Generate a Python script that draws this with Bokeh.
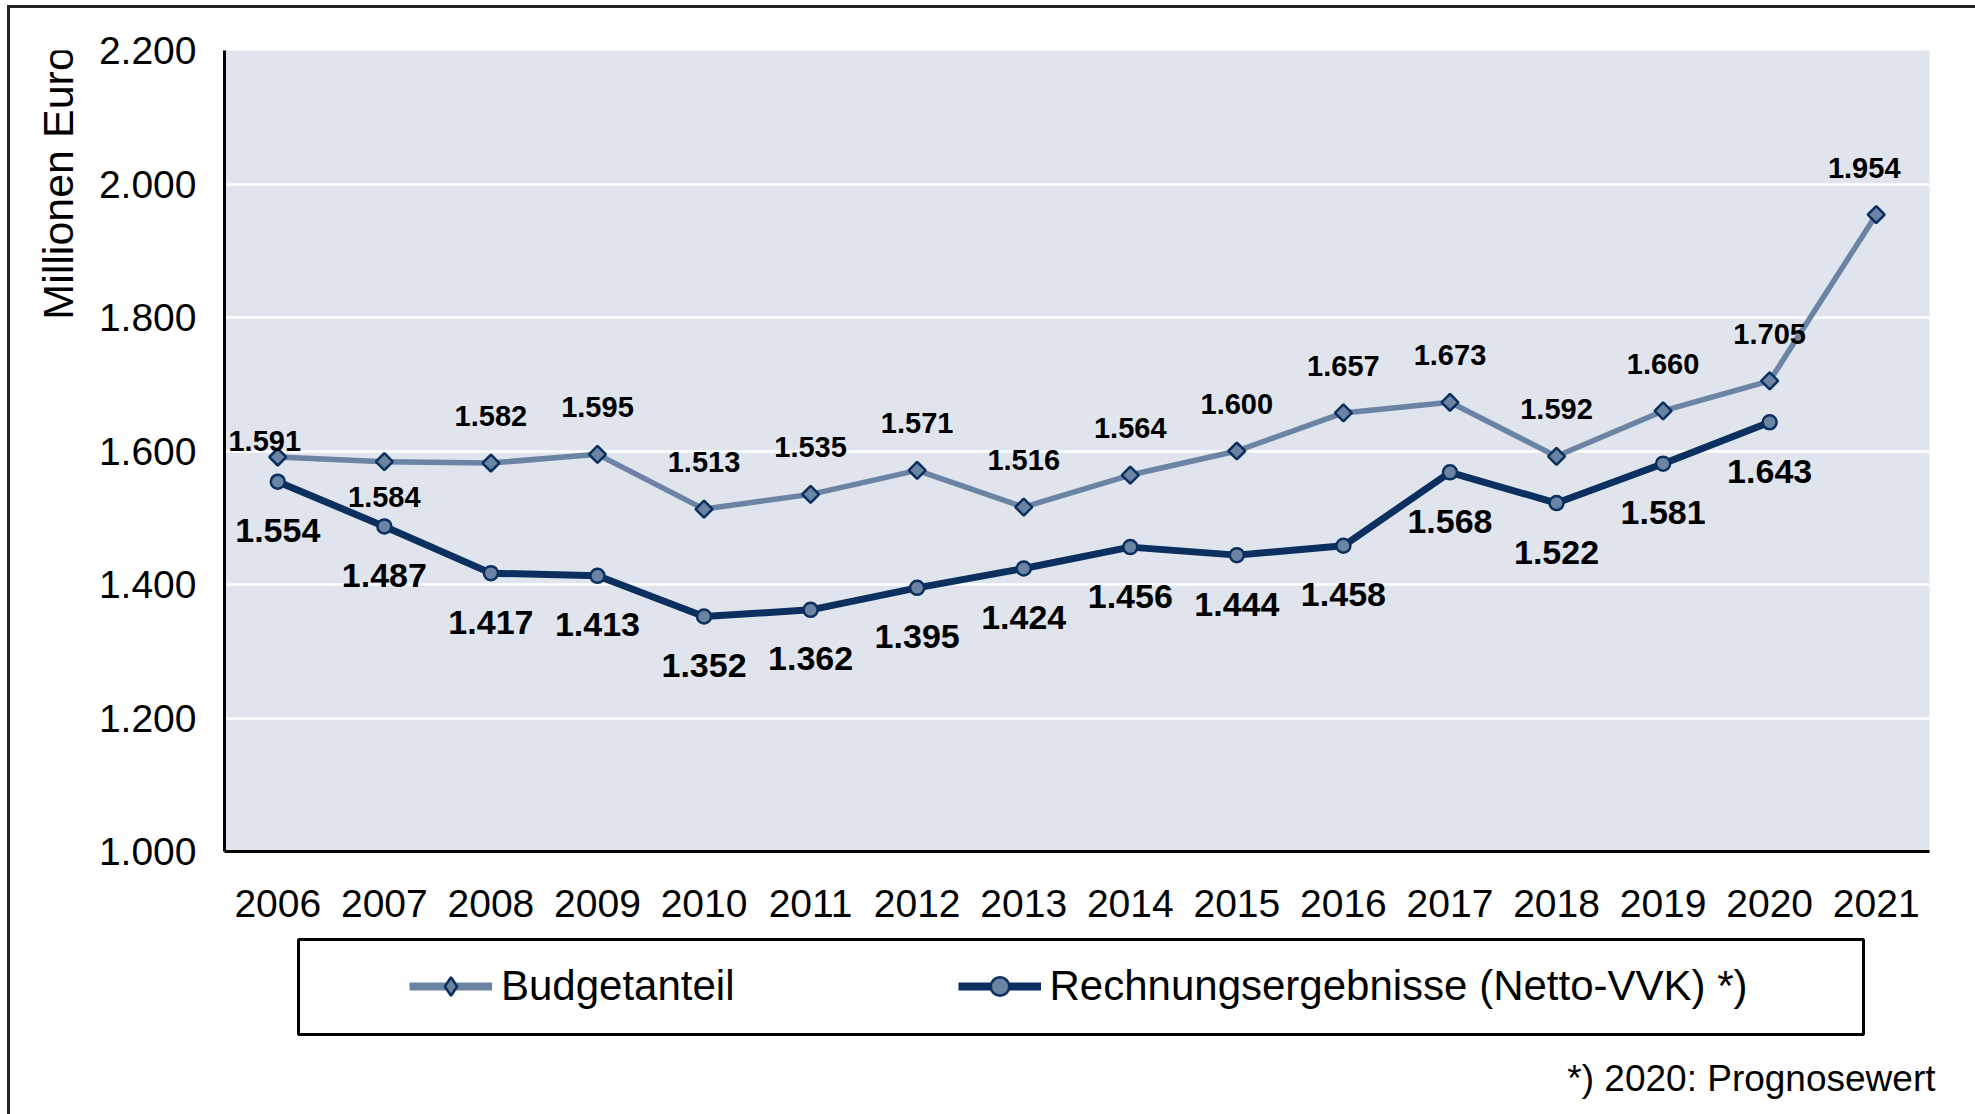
import math
from bokeh.plotting import figure
from bokeh.layouts import column, row
from bokeh.models import (ColumnDataSource, FactorRange, Range1d, FixedTicker,
                          Legend, LegendItem, Label, BoxAnnotation)
from bokeh.core.properties import value
from bokeh.embed import file_html
from bokeh.resources import INLINE

# ---------------- data ----------------
years = ["2006", "2007", "2008", "2009", "2010", "2011", "2012", "2013",
         "2014", "2015", "2016", "2017", "2018", "2019", "2020", "2021"]
budgetanteil = [1591, 1584, 1582, 1595, 1513, 1535, 1571, 1516,
                1564, 1600, 1657, 1673, 1592, 1660, 1705, 1954]
rechnung_years = years[:15]
rechnungsergebnisse = [1554, 1487, 1417, 1413, 1352, 1362, 1395, 1424,
                       1456, 1444, 1458, 1568, 1522, 1581, 1643]
y_ticks = [1000, 1200, 1400, 1600, 1800, 2000, 2200]
y_tick_labels = ["1.000", "1.200", "1.400", "1.600", "1.800", "2.000", "2.200"]

def fmt(v):
    return f"{v:,}".replace(",", ".")

# label placement (screen px)
b_xoff = [-13] + [0] * 14 + [-12]
b_yoff = [-16, 35] + [-47] * 14
r_yoff = [49] * 15

# ---------------- styles ----------------
FONT = "Liberation Sans"
LIGHT = "#6B84A3"
NAVY = "#0B2F5F"
BG = "#DFE4ED"

W, H = 1975, 1114
OX, OY = 10, 8            # outer border (margin + line) offset
TOP_H = 930 - OY          # height of upper part
P0_W = 80                 # strip holding the y-axis title
FL, FT, FR, FB = 224, 50, 1929, 851

# ---- strip with y title ----
p0 = figure(width=P0_W, height=TOP_H, x_range=Range1d(0, P0_W),
            y_range=Range1d(0, TOP_H), output_backend="svg",
            toolbar_location=None, x_axis_location=None, y_axis_location=None,
            min_border=0)
p0.grid.visible = False
p0.outline_line_color = None
p0.background_fill_color = "white"
p0.add_layout(Label(x=57 - OX, y=TOP_H - (161 - OY), text="Millionen Euro",
                    angle=math.pi / 2, text_align="center",
                    text_baseline="middle", text_font=FONT,
                    text_font_size="43px", text_color="black"))

# ---- main chart ----
p = figure(width=W - OX - P0_W, height=TOP_H,
           x_range=FactorRange(*years, range_padding=0),
           y_range=Range1d(1000, 2200), output_backend="svg",
           toolbar_location=None, min_border_left=FL - OX - P0_W,
           min_border_top=FT - OY, min_border_right=W - FR,
           min_border_bottom=930 - FB)
p.background_fill_color = BG
p.border_fill_color = "white"
p.outline_line_color = None
p.xgrid.grid_line_color = None
p.ygrid.grid_line_color = "white"
p.ygrid.grid_line_width = 2.5
p.ygrid.ticker = FixedTicker(ticks=y_ticks)

p.yaxis.ticker = FixedTicker(ticks=y_ticks)
p.yaxis.major_label_overrides = {t: l for t, l in zip(y_ticks, y_tick_labels)}
for ax in (p.xaxis[0], p.yaxis[0]):
    ax.axis_line_color = "black"
    ax.axis_line_width = 3
    ax.major_tick_line_color = None
    ax.minor_tick_line_color = None
    ax.major_tick_out = 0
    ax.major_tick_in = 0
    ax.major_label_text_font = FONT
    ax.major_label_text_font_size = "39px"
    ax.major_label_text_color = "black"
p.yaxis.major_label_standoff = 28
p.xaxis.major_label_standoff = 38

src_b = ColumnDataSource(dict(x=years, y=budgetanteil,
                              t=[fmt(v) for v in budgetanteil],
                              xo=b_xoff, yo=b_yoff))
src_r = ColumnDataSource(dict(x=rechnung_years, y=rechnungsergebnisse,
                              t=[fmt(v) for v in rechnungsergebnisse],
                              yo=r_yoff))

p.line("x", "y", source=src_b, line_color=LIGHT, line_width=5.5)
p.scatter("x", "y", source=src_b, marker="square", angle=math.pi / 4,
          size=12, fill_color=LIGHT, line_color=NAVY, line_width=2.5)
p.line("x", "y", source=src_r, line_color=NAVY, line_width=7)
p.scatter("x", "y", source=src_r, marker="circle", size=14,
          fill_color=LIGHT, line_color=NAVY, line_width=2.5)

p.text("x", "y", text="t", source=src_b, x_offset="xo", y_offset="yo",
       text_font=value(FONT), text_font_style="bold", text_font_size="29px",
       text_align="center", text_baseline="middle", text_color="black")
p.text("x", "y", text="t", source=src_r, y_offset="yo",
       text_font=value(FONT), text_font_style="bold", text_font_size="34px",
       text_align="center", text_baseline="middle", text_color="black")

# ---- legend + footnote strip ----
BOT_H = H - 930
p2 = figure(width=W - OX, height=BOT_H, x_range=Range1d(0, W - OX),
            y_range=Range1d(0, BOT_H), output_backend="svg",
            toolbar_location=None, x_axis_location=None, y_axis_location=None,
            min_border=0)
p2.grid.visible = False
p2.outline_line_color = None
p2.background_fill_color = "white"

p2.add_layout(BoxAnnotation(left=298 - OX, right=1863 - OX,
                            bottom=H - 1034, top=H - 939,
                            fill_alpha=0, line_color="black", line_alpha=1.0,
                            line_width=3))

# legend sample glyphs (kept outside the visible range)
lb2 = p2.line(x=[-100, -90], y=[-100, -100], line_color=LIGHT, line_width=8)
sb2 = p2.scatter(x=[-100], y=[-100], marker="diamond",
                 fill_color=LIGHT, line_color=NAVY, line_width=2.5)
lr2 = p2.line(x=[-100, -90], y=[-100, -100], line_color=NAVY, line_width=8)
sr2 = p2.scatter(x=[-100], y=[-100], marker="circle",
                 fill_color=LIGHT, line_color=NAVY, line_width=2.5)

leg = Legend(items=[LegendItem(label="Budgetanteil", renderers=[lb2, sb2]),
                    LegendItem(label="Rechnungsergebnisse (Netto-VVK) *)",
                               renderers=[lr2, sr2])],
             orientation="horizontal", location=(409 - OX, H - 1010),
             padding=0, spacing=223, glyph_width=83, glyph_height=46,
             label_height=46, label_standoff=9,
             label_text_font=FONT, label_text_font_size="42px",
             label_text_color="black", label_text_baseline="middle",
             border_line_color=None, background_fill_alpha=0.0)
p2.add_layout(leg)

p2.add_layout(Label(x=1935 - OX, y=H - 1078, text="*) 2020: Prognosewert",
                    text_align="right", text_baseline="middle",
                    text_font=FONT, text_font_size="37px", text_color="black"))

layout = column(row(p0, p, spacing=0), p2, spacing=0,
                styles={"margin-left": "7px", "margin-top": "5px",
                        "border-left": "3px solid #222222",
                        "border-top": "3px solid #222222"})

open("out.html", "w").write(file_html(layout, INLINE))
